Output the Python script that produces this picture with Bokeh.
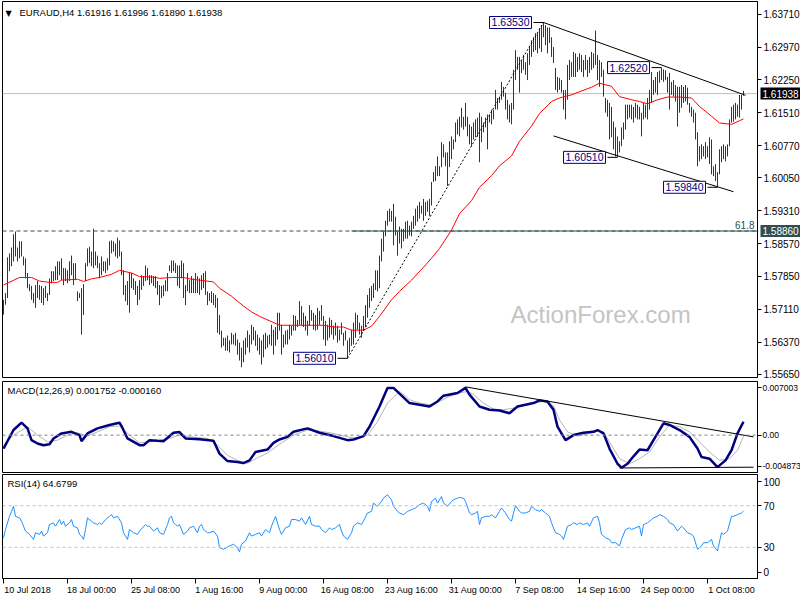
from bokeh.plotting import figure
from bokeh.models import Range1d, FixedTicker, LinearAxis, Label, Span, PrintfTickFormatter
from bokeh.layouts import column
from bokeh.embed import file_html
from bokeh.resources import INLINE

# ---------------- data ----------------
symbol = "EURAUD,H4"
last_ohlc = [1.61916, 1.61996, 1.61890, 1.61938]
macd_last = [0.001752, -0.000160]
rsi_last = 64.6799

bar_high = [
1.5732,1.5747,1.5827,1.5836,1.5849,1.5879,1.5885,1.5849,1.5863,1.5863,
1.5829,1.5825,1.5792,1.5767,1.5763,1.5747,1.5765,1.5774,1.5765,1.5763,
1.5758,1.5763,1.5747,1.5780,1.5796,1.5796,1.5807,1.5818,1.5818,1.5825,
1.5803,1.5803,1.5798,1.5818,1.5831,1.5814,1.5814,1.5751,1.5747,1.5758,
1.5767,1.5814,1.5847,1.5851,1.5840,1.5891,1.5840,1.5831,1.5814,1.5829,
1.5818,1.5818,1.5825,1.5863,1.5865,1.5863,1.5858,1.5871,1.5865,1.5840,
1.5798,1.5765,1.5774,1.5792,1.5792,1.5780,1.5774,1.5763,1.5776,1.5787,
1.5785,1.5809,1.5803,1.5787,1.5787,1.5785,1.5785,1.5774,1.5765,1.5763,
1.5765,1.5776,1.5792,1.5809,1.5820,1.5820,1.5814,1.5809,1.5809,1.5820,
1.5814,1.5765,1.5792,1.5776,1.5785,1.5780,1.5792,1.5785,1.5780,1.5787,
1.5792,1.5796,1.5751,1.5747,1.5751,1.5747,1.5743,1.5736,1.5698,1.5663,
1.5647,1.5647,1.5652,1.5641,1.5658,1.5654,1.5658,1.5643,1.5636,1.5625,
1.5641,1.5647,1.5663,1.5654,1.5676,1.5671,1.5663,1.5654,1.5647,1.5641,
1.5654,1.5658,1.5652,1.5654,1.5676,1.5665,1.5671,1.5703,1.5703,1.5676,
1.5654,1.5663,1.5665,1.5676,1.5674,1.5698,1.5696,1.5687,1.5729,1.5718,
1.5703,1.5696,1.5685,1.5720,1.5709,1.5703,1.5698,1.5714,1.5707,1.5720,
1.5696,1.5685,1.5676,1.5692,1.5687,1.5674,1.5681,1.5674,1.5665,1.5681,
1.5658,1.5663,1.5641,1.5647,1.5665,1.5681,1.5703,1.5698,1.5681,1.5674,
1.5696,1.5720,1.5743,1.5758,1.5763,1.5769,1.5798,1.5798,1.5831,1.5869,
1.5885,1.5909,1.5931,1.5936,1.5931,1.5947,1.5918,1.5885,1.5896,1.5891,
1.5891,1.5907,1.5909,1.5898,1.5907,1.5920,1.5936,1.5943,1.5951,1.5943,
1.5958,1.5951,1.5954,1.5958,1.5996,1.6018,1.6031,1.6053,1.6031,1.6085,
1.6080,1.6062,1.6062,1.6087,1.6098,1.6091,1.6129,1.6136,1.6142,1.6162,
1.6142,1.6173,1.6142,1.6125,1.6120,1.6129,1.6136,1.6140,1.6151,1.6142,
1.6129,1.6140,1.6147,1.6147,1.6158,1.6158,1.6202,1.6184,1.6187,1.6220,
1.6209,1.6196,1.6180,1.6169,1.6173,1.6247,1.6291,1.6276,1.6276,1.6269,
1.6280,1.6264,1.6284,1.6298,1.6313,1.6320,1.6329,1.6329,1.6340,1.6347,
1.6353,1.6347,1.6342,1.6342,1.6320,1.6298,1.6251,1.6231,1.6229,1.6224,
1.6202,1.6202,1.6258,1.6269,1.6264,1.6287,1.6284,1.6276,1.6284,1.6280,
1.6269,1.6280,1.6269,1.6276,1.6287,1.6284,1.6335,1.6280,1.6269,1.6264,
1.6247,1.6184,1.6180,1.6173,1.6164,1.6131,1.6118,1.6098,1.6087,1.6118,
1.6129,1.6169,1.6169,1.6169,1.6169,1.6164,1.6173,1.6169,1.6164,1.6151,
1.6173,1.6169,1.6184,1.6202,1.6242,1.6224,1.6231,1.6242,1.6245,1.6252,
1.6248,1.6246,1.6231,1.6240,1.6220,1.6224,1.6213,1.6209,1.6209,1.6213,
1.6209,1.6213,1.6207,1.6173,1.6164,1.6158,1.6151,1.6107,1.6076,1.6080,
1.6076,1.6085,1.6076,1.6096,1.6091,1.6031,1.6036,1.6018,1.6069,1.6076,
1.6080,1.6076,1.6080,1.6136,1.6164,1.6169,1.6173,1.6169,1.6191,1.6191,
1.6200]

bar_low = [
1.5699,1.5721,1.5736,1.5796,1.5807,1.5818,1.5829,1.5818,1.5825,1.5829,
1.5809,1.5780,1.5758,1.5751,1.5732,1.5725,1.5714,1.5736,1.5732,1.5725,
1.5720,1.5736,1.5729,1.5743,1.5769,1.5774,1.5776,1.5776,1.5787,1.5776,
1.5765,1.5774,1.5769,1.5774,1.5787,1.5765,1.5776,1.5729,1.5736,1.5654,
1.5698,1.5774,1.5807,1.5814,1.5807,1.5803,1.5809,1.5803,1.5780,1.5787,
1.5796,1.5792,1.5798,1.5809,1.5836,1.5840,1.5829,1.5825,1.5829,1.5787,
1.5743,1.5729,1.5720,1.5703,1.5758,1.5754,1.5743,1.5720,1.5732,1.5754,
1.5763,1.5774,1.5776,1.5765,1.5769,1.5763,1.5758,1.5743,1.5720,1.5736,
1.5740,1.5751,1.5751,1.5796,1.5792,1.5796,1.5792,1.5763,1.5758,1.5780,
1.5736,1.5720,1.5751,1.5747,1.5747,1.5747,1.5747,1.5747,1.5743,1.5754,
1.5758,1.5743,1.5720,1.5729,1.5725,1.5720,1.5714,1.5658,1.5654,1.5625,
1.5629,1.5618,1.5618,1.5614,1.5632,1.5632,1.5629,1.5609,1.5596,1.5581,
1.5592,1.5609,1.5625,1.5614,1.5632,1.5641,1.5629,1.5618,1.5609,1.5587,
1.5603,1.5621,1.5625,1.5632,1.5629,1.5609,1.5629,1.5643,1.5663,1.5609,
1.5625,1.5632,1.5632,1.5643,1.5652,1.5663,1.5663,1.5671,1.5676,1.5674,
1.5671,1.5663,1.5652,1.5674,1.5685,1.5665,1.5663,1.5665,1.5676,1.5685,
1.5643,1.5629,1.5641,1.5647,1.5654,1.5643,1.5652,1.5636,1.5641,1.5654,
1.5629,1.5641,1.5601,1.5614,1.5629,1.5632,1.5647,1.5665,1.5654,1.5647,
1.5663,1.5671,1.5692,1.5714,1.5729,1.5736,1.5754,1.5751,1.5758,1.5818,
1.5840,1.5874,1.5898,1.5907,1.5907,1.5854,1.5876,1.5831,1.5858,1.5847,
1.5863,1.5869,1.5869,1.5876,1.5874,1.5891,1.5898,1.5907,1.5914,1.5925,
1.5909,1.5920,1.5929,1.5920,1.5943,1.5996,1.5998,1.6009,1.6009,1.6029,
1.6051,1.6031,1.5987,1.6029,1.6047,1.6069,1.6085,1.6102,1.6098,1.6118,
1.6113,1.6120,1.6098,1.6080,1.6076,1.6091,1.6096,1.6098,1.6040,1.6085,
1.6107,1.6118,1.6069,1.6129,1.6125,1.6136,1.6158,1.6158,1.6173,1.6180,
1.6187,1.6158,1.6136,1.6129,1.6125,1.6158,1.6224,1.6247,1.6196,1.6240,
1.6247,1.6236,1.6224,1.6258,1.6276,1.6287,1.6291,1.6284,1.6295,1.6287,
1.6320,1.6302,1.6284,1.6307,1.6276,1.6262,1.6202,1.6196,1.6202,1.6196,
1.6158,1.6136,1.6180,1.6224,1.6231,1.6231,1.6231,1.6242,1.6247,1.6242,
1.6231,1.6247,1.6231,1.6240,1.6247,1.6251,1.6258,1.6224,1.6209,1.6231,
1.6187,1.6151,1.6142,1.6091,1.6096,1.6069,1.6053,1.6051,1.6062,1.6076,
1.6091,1.6113,1.6136,1.6140,1.6136,1.6129,1.6140,1.6136,1.6136,1.6098,
1.6136,1.6140,1.6136,1.6158,1.6173,1.6191,1.6196,1.6191,1.6218,1.6224,
1.6220,1.6224,1.6196,1.6158,1.6191,1.6187,1.6176,1.6120,1.6151,1.6162,
1.6173,1.6176,1.6169,1.6151,1.6142,1.6129,1.6091,1.6031,1.6042,1.6047,
1.6053,1.6047,1.6051,1.6036,1.6013,1.6009,1.5998,1.5984,1.6013,1.6040,
1.6047,1.6042,1.6053,1.6076,1.6129,1.6131,1.6136,1.6142,1.6140,1.6158,
1.6189]

ma_idx = [0,8,14,18,23,27,29,37,40,44,48,54,58,64,68,75,78,84,90,94,
          98,105,108,114,120,124,128,134,138,144,154,160,165,170,174,180,184,188,194,198,
          204,210,214,218,224,228,234,238,244,248,254,258,264,268,274,278,284,288,294,298,
          304,308,314,318,322,327,332,338,344,348,354,358,364,368,370]
ma_val = [1.5765,1.5782,1.5782,1.5774,1.5771,1.5771,1.5776,1.5778,1.5773,1.5779,
          1.5782,1.5789,1.5798,1.5792,1.5784,1.5783,1.5780,1.5782,1.5782,1.5778,
          1.5776,1.5772,1.5758,1.5740,1.5718,1.5705,1.5695,1.5683,1.5675,1.5675,
          1.5675,1.5675,1.5671,1.5671,1.5664,1.5664,1.5673,1.5695,1.5732,1.5751,
          1.5776,1.5805,1.5825,1.5847,1.5888,1.5925,1.5954,1.5984,1.6010,1.6032,
          1.6054,1.6087,1.6121,1.6149,1.6176,1.6184,1.6191,1.6198,1.6208,1.6217,
          1.6210,1.6187,1.6180,1.6176,1.6171,1.6180,1.6186,1.6186,1.6184,1.6165,
          1.6143,1.6128,1.6125,1.6133,1.6137]

macd_main = [(0,-0.00175),(5,0.00067),(9,0.00163),(12,0.00089),(14,-0.00065),(17,-0.00109),
             (20,-0.00131),(23,-0.00118),(25,-0.00043),(29,0.00023),(34,0.00044),(38,0.00001),
             (39,-0.00079),(42,0.00023),(47,0.00089),(53,0.00133),(58,0.00163),(59,0.00119),
             (62,-0.00043),(68,-0.00131),(70,-0.00131),(73,-0.00065),(77,-0.00074),(80,-0.00079),
             (85,0.00031),(88,0.00040),(91,-0.00043),(98,-0.00052),(105,-0.00074),(108,-0.00241),
             (112,-0.00338),(117,-0.00351),(120,-0.00365),(123,-0.00329),(126,-0.00220),(132,-0.00188),
             (135,-0.00101),(138,-0.00056),(142,-0.00022),(145,0.00044),(152,0.00089),(158,0.00031),
             (165,-0.00012),(172,-0.00065),(175,-0.00056),(180,-0.00012),(183,0.00110),(188,0.00374),
             (192,0.00617),(195,0.00617),(198,0.00542),(203,0.00419),(208,0.00397),(213,0.00374),
             (217,0.00440),(220,0.00515),(227,0.00551),(231,0.00617),(233,0.00529),(238,0.00374),
             (243,0.00331),(248,0.00322),(253,0.00287),(257,0.00374),(265,0.00419),(268,0.00454),
             (272,0.00440),(275,0.00331),(277,0.00110),(281,-0.00065),(285,0.00001),(290,0.00031),
             (295,0.00044),(297,0.00067),(300,0.00023),(303,-0.00175),(307,-0.00373),(309,-0.00425),
             (312,-0.00373),(315,-0.00276),(318,-0.00188),(322,-0.00197),(325,-0.00065),(330,0.00155),
             (333,0.00133),(338,0.00067),(343,-0.00022),(347,-0.00175),(349,-0.00285),(353,-0.00307),
             (357,-0.00417),(361,-0.00329),(364,-0.00197),(367,0.00023),(370,0.00175)]

macd_signal = [(0,-0.00131),(5,0.00001),(12,0.00110),(17,0.00001),(22,-0.00088),(27,-0.00065),
               (32,0.00001),(37,0.00031),(42,-0.00012),(47,0.00044),(53,0.00110),(58,0.00119),
               (63,0.00001),(68,-0.00101),(73,-0.00088),(78,-0.00065),(83,-0.00043),(88,0.00001),
               (93,-0.00022),(102,-0.00043),(107,-0.00131),(112,-0.00263),(117,-0.00329),(122,-0.00365),
               (127,-0.00294),(132,-0.00233),(138,-0.00118),(145,0.00001),(152,0.00067),(158,0.00053),
               (165,0.00023),(172,-0.00022),(177,-0.00043),(182,0.00001),(187,0.00176),(192,0.00419),
               (198,0.00572),(203,0.00463),(208,0.00419),(213,0.00397),(218,0.00440),(223,0.00506),
               (228,0.00551),(232,0.00572),(235,0.00529),(240,0.00419),(245,0.00340),(250,0.00331),
               (255,0.00353),(260,0.00384),(265,0.00419),(270,0.00440),(275,0.00384),(278,0.00199),
               (282,0.00044),(287,-0.00012),(292,0.00014),(297,0.00053),(300,0.00044),(303,-0.00088),
               (308,-0.00307),(313,-0.00373),(318,-0.00307),(323,-0.00220),(328,-0.00022),(333,0.00133),
               (338,0.00110),(343,0.00044),(348,-0.00088),(353,-0.00220),(358,-0.00329),(363,-0.00307),
               (367,-0.00197),(370,-0.00016)]

rsi_pts = [(0,39.2),(1,47.1),(3,59.8),(4,64.6),(5,69.4),(6,59.8),(8,58.3),(9,55.1),(11,45.6),(13,42.4),
           (15,37.6),(16,44.0),(18,42.4),(19,45.6),(20,40.8),(22,44.0),(23,51.9),(25,53.5),(26,50.3),(28,56.7),
           (29,51.9),(30,55.1),(31,50.3),(33,53.5),(34,56.7),(35,50.3),(37,48.7),(38,42.4),(39,40.8),(40,37.6),
           (41,47.1),(42,58.3),(44,55.1),(45,53.5),(47,51.9),(48,53.5),(49,51.9),(51,56.7),(53,59.8),(54,61.4),
           (55,58.3),(57,59.8),(59,53.5),(60,44.0),(62,37.6),(63,47.1),(65,44.0),(67,42.4),(68,45.6),(71,51.9),
           (72,50.3),(73,50.3),(75,45.6),(77,48.7),(78,44.0),(80,42.4),(82,51.9),(83,58.3),(84,59.8),(85,53.5),
           (86,51.9),(87,50.3),(88,51.9),(90,42.4),(92,45.6),(93,48.7),(95,50.3),(97,44.0),(98,50.3),(99,51.9),
           (100,47.1),(102,44.0),(103,44.0),(105,45.6),(107,40.8),(108,29.7),(110,28.1),(113,31.3),(115,32.9),(117,29.7),
           (118,25.6),(119,32.9),(121,36.0),(123,44.0),(124,40.8),(126,42.4),(128,44.0),(129,40.8),(131,47.1),(133,44.0),
           (134,50.3),(136,59.8),(138,47.1),(139,42.4),(141,48.7),(143,50.3),(144,56.7),(146,56.7),(148,55.1),(149,58.3),
           (151,51.9),(153,59.8),(154,51.9),(156,50.3),(158,50.3),(159,47.1),(161,44.0),(163,48.7),(164,47.1),(166,48.7),
           (168,51.9),(169,45.6),(170,40.8),(172,37.6),(174,44.0),(175,50.3),(177,53.5),(179,51.9),(180,55.1),(182,63.0),
           (184,64.6),(185,72.5),(187,69.4),(189,74.1),(190,77.3),(192,80.5),(194,75.7),(195,69.4),(197,64.6),(198,63.0),
           (200,61.4),(202,64.6),(204,66.2),(206,67.8),(208,71.0),(210,72.5),(212,69.4),(213,64.6),(214,74.1),(216,77.3),
           (217,72.5),(219,78.9),(220,72.5),(222,69.4),(224,74.1),(225,75.7),(227,77.3),(228,77.9),(230,77.3),(231,74.1),
           (233,63.0),(234,61.4),(236,63.0),(237,64.6),(238,51.9),(239,58.3),(241,59.8),(243,59.8),(244,61.4),(246,58.3),
           (248,64.6),(249,67.8),(251,63.0),(253,56.7),(254,55.1),(255,63.0),(256,70.0),(258,64.6),(259,63.0),(261,63.0),
           (263,64.6),(264,69.4),(266,66.2),(268,64.6),(269,66.2),(271,63.0),(273,59.8),(274,53.5),(276,44.0),(278,42.4),
           (279,40.8),(280,37.6),(282,50.3),(284,51.9),(285,53.5),(287,51.9),(288,53.5),(290,51.9),(292,53.5),(293,50.3),
           (295,58.3),(297,59.8),(298,53.5),(299,42.4),(301,39.2),(303,37.6),(304,34.4),(306,34.4),(308,31.3),(309,37.6),
           (311,47.1),(313,48.7),(314,47.1),(316,48.7),(318,50.3),(319,40.8),(320,51.9),(322,53.5),(324,56.7),(325,58.3),
           (327,59.8),(328,61.4),(330,59.8),(332,56.7),(333,53.5),(335,51.9),(337,45.6),(339,50.3),(340,48.7),(342,44.0),
           (344,42.4),(345,40.8),(347,28.1),(349,31.3),(350,34.4),(352,34.4),(354,37.6),(355,31.3),(357,26.5),(359,44.0),
           (360,42.4),(362,45.6),(364,59.8),(365,59.8),(367,61.4),(369,63.0),(370,64.68)]

price_ticks = [1.5565, 1.5637, 1.5711, 1.5785, 1.5857, 1.5931, 1.6005, 1.6077, 1.6151, 1.6225, 1.6297, 1.6371]
price_lo, price_hi = 1.5558, 1.6400
macd_lo, macd_hi = -0.004873, 0.007003
rsi_levels = [30, 70]
rsi_tick_pos = [6, 30, 70, 93]
rsi_tick_labels = ["0", "30", "70", "100"]

x_label_idx = [0, 32, 64, 96, 128, 160, 192, 224, 256, 288, 320, 352]
x_label_text = ["10 Jul 2018", "18 Jul 00:00", "25 Jul 08:00", "1 Aug 16:00", "9 Aug 00:00",
                "16 Aug 08:00", "23 Aug 16:00", "31 Aug 00:00", "7 Sep 08:00", "14 Sep 16:00",
                "24 Sep 00:00", "1 Oct 08:00"]

swing_idx = [270, 329, 307, 357, 172]
swing_val = [1.6353, 1.6252, 1.6051, 1.5984, 1.5601]

fib_level = 1.5886
fib_start = 174
fib_text = "61.8"

trend_dotted_x = [172, 270]
trend_dotted_y = [1.5601, 1.6353]
chan_up_x = [270, 371]
chan_up_y = [1.6353, 1.6190]
chan_dn_x = [275, 365]
chan_dn_y = [1.6099, 1.5974]
macd_tl_x = [231, 375]
macd_tl_y = [0.0063, -0.00022]
macd_bl_x = [308, 375]
macd_bl_y = [-0.00428, -0.00418]

# ---------------- styling ----------------
FONT = "Liberation Sans"
BAR = "#10405e"
FW = 755
assert len(bar_high) == len(bar_low)
n = len(bar_high)
idx = list(range(n))
x_start = -0.5
x_end = x_start + FW / 2.0
xr = Range1d(x_start, x_end)


def style_axis(ax, size="10px"):
    ax.major_label_text_font = FONT
    ax.major_label_text_font_size = size
    ax.major_label_text_color = "black"
    ax.major_tick_out = 4
    ax.major_tick_in = 0
    ax.major_tick_line_color = "black"
    ax.minor_tick_line_color = None
    ax.axis_line_color = "black"
    ax.major_label_standoff = 2


def base_fig(fh, yr, top, bottom, **kw):
    p = figure(frame_width=FW, frame_height=fh, x_range=xr, y_range=yr,
               output_backend="svg", toolbar_location=None,
               min_border_left=2, min_border_right=43, min_border_top=top, min_border_bottom=bottom,
               background_fill_color="white", border_fill_color="white",
               outline_line_color="black", outline_line_width=1, outline_line_alpha=1.0, **kw)
    p.xgrid.visible = False
    p.ygrid.visible = False
    return p


# ---------------- main price panel ----------------
p1 = base_fig(376, Range1d(price_lo, price_hi), 1, 3, x_axis_location=None, y_axis_location="right")
ya = p1.yaxis[0]
ya.ticker = FixedTicker(ticks=price_ticks)
ya.formatter = PrintfTickFormatter(format="%.5f")
style_axis(ya)

p1.add_layout(Span(location=last_ohlc[3], dimension="width", line_color="#c0c0c0",
                   line_width=1, level="underlay"))
p1.add_layout(Label(x=x_start + 0.673 * (x_end - x_start), y=price_lo + 0.167 * (price_hi - price_lo),
                    text="ActionForex.com", text_font=FONT, text_font_size="24px",
                    text_color="#c4c4c4", text_baseline="middle", level="underlay"))
p1.add_layout(Span(location=fib_level, dimension="width", line_color="#2f4f4f",
                   line_dash="4 3", line_width=1))
p1.segment(x0=[fib_start], y0=[fib_level], x1=[x_end], y1=[fib_level], line_color="#2f4f4f", line_width=1)

p1.segment(x0=idx, y0=bar_low, x1=idx, y1=bar_high, line_color=BAR, line_width=1)
p1.line(ma_idx, ma_val, line_color="#ff0000", line_width=1)

p1.line(trend_dotted_x, trend_dotted_y, line_color="black", line_dash="2 2", line_width=1)
p1.line(chan_up_x, chan_up_y, line_color="black", line_width=1)
p1.line(chan_dn_x, chan_dn_y, line_color="black", line_width=1)

p1.segment(x0=[i - 5 for i in swing_idx], y0=swing_val, x1=swing_idx, y1=swing_val,
           line_color="black", line_width=1)
for i, v in zip(swing_idx, swing_val):
    p1.add_layout(Label(x=i - 5, y=v, x_offset=-2, text=f"{v:.5f}", text_align="right",
                        text_baseline="middle", text_font=FONT, text_font_size="10.5px",
                        text_color="#000080", border_line_color="#000080", border_line_width=1,
                        background_fill_color="white", padding=2))

# price tags in the right-hand panel (outside the frame)
p1.add_layout(Label(x=x_end, y=last_ohlc[3], x_offset=3, text=f"{last_ohlc[3]:.5f}",
                    text_color="white", background_fill_color="black", text_baseline="middle",
                    text_font=FONT, text_font_size="10px", padding=2), "right")
p1.add_layout(Label(x=x_end, y=fib_level, x_offset=3, text=f"{fib_level:.5f}",
                    text_color="white", background_fill_color="#2f4f4f", text_baseline="middle",
                    text_font=FONT, text_font_size="10px", padding=2), "right")
p1.add_layout(Label(x=x_end, y=fib_level, x_offset=-3, y_offset=2, text=fib_text,
                    text_align="right", text_baseline="bottom", text_color="#2f4f4f",
                    text_font=FONT, text_font_size="10px"))

p1.add_layout(Label(x=x_start, y=price_hi, x_offset=3, y_offset=-7, text="\u25bc",
                    text_font="DejaVu Sans", text_font_size="8px", text_baseline="top",
                    text_color="black"))
p1.add_layout(Label(x=x_start, y=price_hi, x_offset=17, y_offset=-5,
                    text=f"{symbol}  " + " ".join(f"{v:.5f}" for v in last_ohlc),
                    text_font=FONT, text_font_size="9.5px", text_baseline="top", text_color="black"))

# ---------------- MACD panel ----------------
p2 = base_fig(91, Range1d(macd_lo, macd_hi), 1, 1, x_axis_location=None, y_axis_location=None)
p2.extra_y_ranges = {"pct": Range1d(0, 100)}
zero_pct = round(100 * (0 - macd_lo) / (macd_hi - macd_lo))
macd_tick_pos = [7, zero_pct, 93]
macd_tick_text = [f"{macd_lo:.6f}", "0.00", f"{macd_hi:.6f}"]
ax2 = LinearAxis(y_range_name="pct", ticker=FixedTicker(ticks=macd_tick_pos),
                 major_label_overrides=dict(zip(macd_tick_pos, macd_tick_text)))
style_axis(ax2, size="8.5px")
ax2.major_label_standoff = 1
p2.add_layout(ax2, "right")
p2.add_layout(Span(location=0, dimension="width", line_color="#808080", line_dash="3 3", line_width=1))
p2.line([a for a, b in macd_signal], [b for a, b in macd_signal], line_color="#b4b4b4", line_width=1)
p2.line([a for a, b in macd_main], [b for a, b in macd_main], line_color="#000080", line_width=2.5)
p2.line(macd_tl_x, macd_tl_y, line_color="black", line_width=1)
p2.line(macd_bl_x, macd_bl_y, line_color="black", line_width=1)
p2.add_layout(Label(x=x_start, y=macd_hi, x_offset=5, y_offset=-3,
                    text=f"MACD(12,26,9) {macd_last[0]:.6f} {macd_last[1]:.6f}",
                    text_font=FONT, text_font_size="9.5px", text_baseline="top", text_color="black"))

# ---------------- RSI panel ----------------
p3 = base_fig(104, Range1d(0, 100), 1, 22, x_axis_location="below", y_axis_location="right")
ya3 = p3.yaxis[0]
ya3.ticker = FixedTicker(ticks=rsi_tick_pos)
ya3.major_label_overrides = dict(zip(rsi_tick_pos, rsi_tick_labels))
style_axis(ya3)

xa = p3.xaxis[0]
xa.ticker = FixedTicker(ticks=x_label_idx)
xa.major_label_overrides = {k: "" for k in x_label_idx}
xa.major_label_text_font_size = "0px"
xa.major_label_standoff = 0
xa.major_tick_out = 5
xa.major_tick_in = 0
xa.major_tick_line_color = "black"
xa.minor_tick_line_color = None
xa.axis_line_color = "black"

label_shift = 12
p3.extra_x_ranges = {"lab": Range1d(x_start - label_shift, x_end - label_shift)}
la = LinearAxis(x_range_name="lab", ticker=FixedTicker(ticks=x_label_idx),
                major_label_overrides=dict(zip(x_label_idx, x_label_text)),
                major_tick_out=0, major_tick_in=0, axis_line_color=None,
                major_tick_line_color=None, minor_tick_line_color=None,
                major_label_standoff=1, major_label_text_font=FONT,
                major_label_text_font_size="9px", major_label_text_color="black")
p3.add_layout(la, "below")

for lv in rsi_levels:
    p3.add_layout(Span(location=lv, dimension="width", line_color="#c0c0c0", line_dash="3 3", line_width=1))
p3.line([a for a, b in rsi_pts], [b for a, b in rsi_pts], line_color="#1e90ff", line_width=1)
p3.add_layout(Label(x=x_start, y=100, x_offset=5, y_offset=-3, text=f"RSI(14) {rsi_last:.4f}",
                    text_font=FONT, text_font_size="9.5px", text_baseline="top", text_color="black"))

layout = column(p1, p2, p3, spacing=0)
open("out.html", "w").write(file_html(layout, INLINE, title="EURAUD H4"))
